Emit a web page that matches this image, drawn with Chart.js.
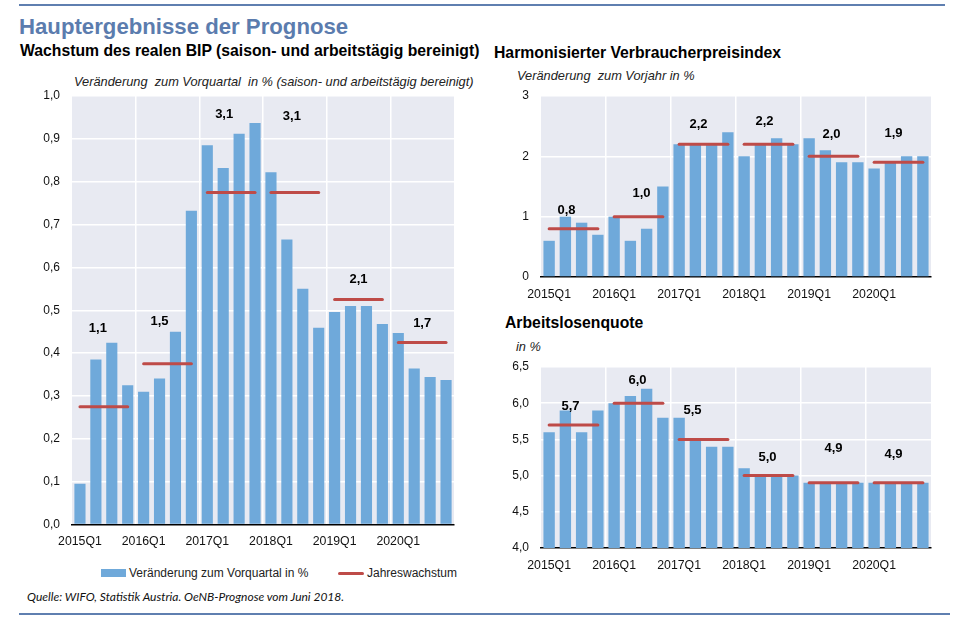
<!DOCTYPE html>
<html lang="de">
<head>
<meta charset="utf-8">
<title>Hauptergebnisse der Prognose</title>
<script src="https://cdn.jsdelivr.net/npm/chart.js@4/dist/chart.umd.min.js"></script>
<style>
    html, body { margin: 0; padding: 0; background: #fff; }
    #page { position: relative; width: 960px; height: 618px; overflow: hidden; font-family: "Liberation Sans", Arial, sans-serif; }
    #page > * { position: absolute; white-space: pre; }
    canvas { position: absolute; }
    .rule { height: 2px; background: #5f7fb0; }
    .main { left: 19px; top: 13px; font-size: 22.2px; font-weight: bold; color: #5b7cae; line-height: 28px; }
    .head { font-size: 15.75px; font-weight: bold; color: #000; line-height: 18px; }
    .unit { font-size: 12.8px; font-style: italic; color: #222; line-height: 14px; }
    .legend { font-size: 12px; color: #222; line-height: 14px; }
    .source { left: 27px; top: 590px; font-family: Lato, sans-serif; font-size: 12px; font-style: italic; color: #111; line-height: 14px; }
    .swatch { background: #6fa9da; }
    .swatch.line { background: #be4b48; border-radius: 2px; }
</style>
</head>
<body>
<div id="page">
    <div class="rule" style="left:19px;top:4px;width:926px"></div>
    <div class="main">Hauptergebnisse der Prognose</div>

    <div class="head" style="left:20px;top:42px">Wachstum des realen BIP (saison- und arbeitstägig bereinigt)</div>
    <div class="unit" style="left:74px;top:75px">Veränderung  zum Vorquartal  in % (saison- und arbeitstägig bereinigt)</div>
    <canvas id="chart-bip" width="450" height="470" style="left:10px;top:85px"></canvas>

    <div class="head" style="left:494px;top:44px">Harmonisierter Verbraucherpreisindex</div>
    <div class="unit" style="left:517px;top:69px">Veränderung  zum Vorjahr in %</div>
    <canvas id="chart-hvpi" width="440" height="221" style="left:500px;top:85px"></canvas>

    <div class="head" style="left:505px;top:314px">Arbeitslosenquote</div>
    <div class="unit" style="left:516px;top:340px">in %</div>
    <canvas id="chart-alq" width="440" height="217" style="left:500px;top:356px"></canvas>

    <div class="swatch" style="left:101px;top:569px;width:25px;height:8px"></div>
    <div class="legend" style="left:129px;top:566px">Veränderung zum Vorquartal in %</div>
    <div class="swatch line" style="left:338px;top:572px;width:26px;height:3px"></div>
    <div class="legend" style="left:367px;top:566px">Jahreswachstum</div>

    <div class="source">Quelle: WIFO, Statistik Austria. OeNB-Prognose vom Juni 2018.</div>
    <div class="rule" style="left:19px;top:613px;width:931px"></div>
</div>

<script>
const quarters = [
    "2015Q1", "2015Q2", "2015Q3", "2015Q4",
    "2016Q1", "2016Q2", "2016Q3", "2016Q4",
    "2017Q1", "2017Q2", "2017Q3", "2017Q4",
    "2018Q1", "2018Q2", "2018Q3", "2018Q4",
    "2019Q1", "2019Q2", "2019Q3", "2019Q4",
    "2020Q1", "2020Q2", "2020Q3", "2020Q4"
];

const bipQuarterly = [
    0.095, 0.385, 0.424, 0.325,
    0.31, 0.341, 0.45, 0.732,
    0.885, 0.832, 0.912, 0.937,
    0.822, 0.665, 0.55, 0.459,
    0.496, 0.51, 0.51, 0.468,
    0.447, 0.364, 0.344, 0.337
];
// the annual line sits at a quarter of the yearly growth
const bipAnnualLine = [0.275, 0.375, 0.775, 0.775, 0.525, 0.425];
const bipAnnualLabels = ["1,1", "1,5", "3,1", "3,1", "2,1", "1,7"];

const hvpiQuarterly = [
    0.6, 1.0, 0.9, 0.7,
    1.0, 0.6, 0.8, 1.5,
    2.2, 2.2, 2.2, 2.4,
    2.0, 2.2, 2.3, 2.2,
    2.3, 2.1, 1.9, 1.9,
    1.8, 1.9, 2.0, 2.0
];
const hvpiAnnualLine = [0.8, 1.0, 2.2, 2.2, 2.0, 1.9];
const hvpiAnnualLabels = ["0,8", "1,0", "2,2", "2,2", "2,0", "1,9"];

const alqQuarterly = [
    5.6, 5.9, 5.6, 5.9,
    6.0, 6.1, 6.2, 5.8,
    5.8, 5.5, 5.4, 5.4,
    5.1, 5.0, 5.0, 5.0,
    4.9, 4.9, 4.9, 4.9,
    4.9, 4.9, 4.9, 4.9
];
const alqAnnualLine = [5.7, 6.0, 5.5, 5.0, 4.9, 4.9];
const alqAnnualLabels = ["5,7", "6,0", "5,5", "5,0", "4,9", "4,9"];

const BAR_COLOR = "#6fa9da";
const LINE_COLOR = "#be4b48";
const PLOT_COLOR = "#e8eaf2";
const AXIS_FONT = "'Liberation Sans', Arial, sans-serif";

function comma(value, digits) {
    return value.toFixed(digits).replace(".", ",");
}

// grey plot background and the bold annual numbers above the red lines
const decoration = {
    id: "decoration",
    beforeDraw(chart) {
        const a = chart.chartArea;
        chart.ctx.save();
        chart.ctx.fillStyle = PLOT_COLOR;
        chart.ctx.fillRect(a.left, a.top, a.width, a.height);
        chart.ctx.restore();
    },
    afterDraw(chart, args, opts) {
        const ctx = chart.ctx;
        const x = chart.scales.x;
        const y = chart.scales.y;
        ctx.save();
        ctx.font = "bold 13px " + AXIS_FONT;
        ctx.fillStyle = "#000";
        ctx.textAlign = "center";
        ctx.textBaseline = "middle";
        opts.labels.forEach((label, i) => {
            const cx = (x.getPixelForValue(i * 4 + 1) + x.getPixelForValue(i * 4 + 2)) / 2;
            const off = opts.offsets[i];
            ctx.fillText(label, cx + off[0], y.getPixelForValue(opts.line[i]) + off[1]);
        });
        ctx.restore();
    }
};

function annualDatasets(line) {
    return line.map((value, year) => ({
        type: "line",
        data: quarters.map((q, i) => Math.floor(i / 4) === year ? value : null),
        borderColor: LINE_COLOR,
        borderWidth: 3,
        borderCapStyle: "round",
        pointRadius: 0,
        spanGaps: false,
        order: 0
    }));
}

function makeChart(id, cfg) {
    new Chart(document.getElementById(id), {
        type: "bar",
        data: {
            labels: quarters,
            datasets: [
                {
                    data: cfg.bars,
                    backgroundColor: BAR_COLOR,
                    barPercentage: 0.7,
                    categoryPercentage: 1,
                    order: 1
                },
                ...annualDatasets(cfg.line)
            ]
        },
        options: {
            responsive: false,
            animation: false,
            devicePixelRatio: 1,
            layout: { padding: cfg.padding },
            plugins: {
                legend: { display: false },
                tooltip: { enabled: false },
                decoration: { labels: cfg.labels, line: cfg.line, offsets: cfg.offsets }
            },
            scales: {
                x: {
                    afterFit(scale) {
                        scale.height = cfg.xHeight;
                        scale.paddingLeft = 0;
                        scale.paddingRight = 0;
                    },
                    border: { color: "#000", width: 1.5 },
                    grid: {
                        offset: true,
                        drawTicks: false,
                        lineWidth: 1.5,
                        color: c => c.index % 4 === 0 && c.index > 0 ? "#fff" : "rgba(255,255,255,0)"
                    },
                    ticks: {
                        autoSkip: false,
                        maxRotation: 0,
                        padding: 10,
                        color: "#111",
                        font: { family: AXIS_FONT, size: 12.3 },
                        callback(value, index) { return index % 4 === 0 ? quarters[index] : ""; }
                    }
                },
                y: {
                    min: cfg.min,
                    max: cfg.max,
                    afterFit(scale) {
                        scale.width = cfg.yWidth;
                        // tick padding would otherwise push the plot down
                        scale.paddingTop = 0;
                        scale.paddingBottom = 0;
                    },
                    border: { display: false },
                    grid: { color: "#fff", lineWidth: 1.5, drawTicks: false },
                    ticks: {
                        stepSize: cfg.step,
                        padding: 12,
                        color: "#111",
                        font: { family: AXIS_FONT, size: 12 },
                        callback: value => comma(value, cfg.digits)
                    }
                }
            }
        },
        plugins: [decoration]
    });
}

makeChart("chart-bip", {
    bars: bipQuarterly, line: bipAnnualLine, labels: bipAnnualLabels,
    offsets: [[-6, -78], [-8, -42], [-7, -78], [-3, -76], [0, -20], [0, -19]],
    min: 0, max: 1, step: 0.1, digits: 1,
    yWidth: 62, xHeight: 30.5,
    padding: { top: 11, right: 6 }
});

makeChart("chart-hvpi", {
    bars: hvpiQuarterly, line: hvpiAnnualLine, labels: hvpiAnnualLabels,
    offsets: [[-7, -18], [3, -23], [-5, -20], [-4, -23], [-2, -22], [-5, -29]],
    min: 0, max: 3, step: 1, digits: 0,
    yWidth: 41, xHeight: 29,
    padding: { top: 11, right: 9 }
});

makeChart("chart-alq", {
    bars: alqQuarterly, line: alqAnnualLine, labels: alqAnnualLabels,
    offsets: [[-3, -18], [-1, -23], [-11, -29], [-1, -18], [0, -34], [-5, -28]],
    min: 4, max: 6.5, step: 0.5, digits: 1,
    yWidth: 41, xHeight: 25,
    padding: { top: 11, right: 9 }
});
</script>
</body>
</html>
